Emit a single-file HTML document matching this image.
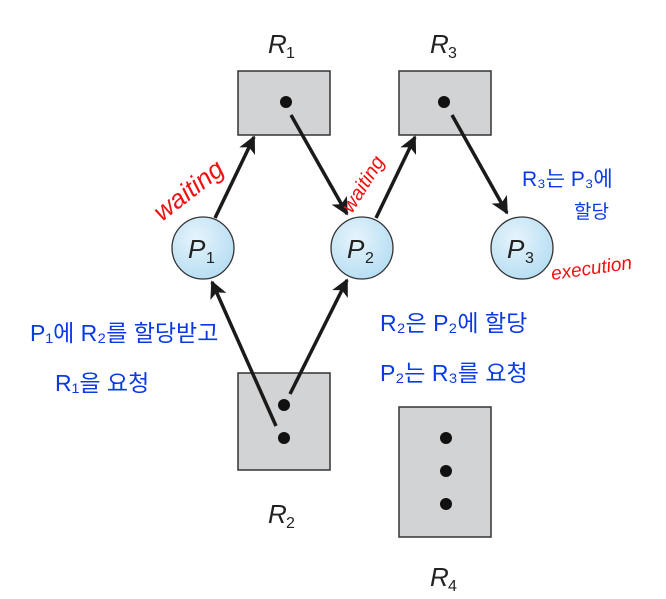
<!DOCTYPE html>
<html><head><meta charset="utf-8"><style>
html,body{margin:0;padding:0;background:#fff;}
svg{display:block;}
.lbl{font-family:"Liberation Sans",sans-serif;font-style:italic;font-size:26px;fill:#222;}
.sub{font-family:"Liberation Sans",sans-serif;font-size:16px;fill:#222;}
.red{font-family:"Liberation Sans",sans-serif;font-style:italic;fill:#f01010;}
.blue{font-family:"Liberation Sans","Noto Sans CJK KR",sans-serif;fill:#0a3ae8;}
</style></head><body>
<svg width="666" height="599" viewBox="0 0 666 599" xmlns="http://www.w3.org/2000/svg">
<defs>
<marker id="ah" viewBox="0 0 10 10" refX="9" refY="5" markerWidth="5" markerHeight="5" orient="auto" markerUnits="strokeWidth">
<path d="M0,0 L10,5 L0,10 L2.5,5 z" fill="#1a1a1a"/></marker>
<radialGradient id="pg" cx="0.4" cy="0.35" r="0.7"><stop offset="0" stop-color="#e6f4fc"/><stop offset="1" stop-color="#b5ddf2"/></radialGradient>
</defs>
<g fill="#d2d3d4" stroke="#333" stroke-width="1.5">
<rect x="238" y="71" width="92" height="64"/>
<rect x="399" y="71" width="92" height="64"/>
<rect x="238" y="373" width="92" height="97"/>
<rect x="399" y="407" width="92" height="130"/>
</g>
<g fill="#111">
<circle cx="286" cy="102" r="6"/>
<circle cx="444" cy="102" r="6"/>
<circle cx="284" cy="405" r="6"/>
<circle cx="284" cy="438" r="6"/>
<circle cx="446" cy="438" r="6"/>
<circle cx="446" cy="471" r="6"/>
<circle cx="446" cy="504" r="6"/>
</g>
<g fill="url(#pg)" stroke="#333" stroke-width="1.3">
<circle cx="203" cy="248" r="31"/>
<circle cx="362" cy="248" r="31"/>
<circle cx="522" cy="248" r="31"/>
</g>
<g stroke="#1a1a1a" stroke-width="3.5" fill="none" marker-end="url(#ah)">
<line x1="215" y1="218" x2="254" y2="137"/>
<line x1="291" y1="115" x2="347" y2="214"/>
<line x1="376" y1="218" x2="415" y2="137"/>
<line x1="452" y1="115" x2="507" y2="213"/>
<line x1="276" y1="426" x2="212" y2="282"/>
<line x1="290" y1="394" x2="347" y2="280"/>
</g>
<text class="lbl" x="268" y="53">R</text><text class="sub" x="286" y="58">1</text>
<text class="lbl" x="430" y="53">R</text><text class="sub" x="448" y="58">3</text>
<text class="lbl" x="268" y="523">R</text><text class="sub" x="286" y="528">2</text>
<text class="lbl" x="430" y="586">R</text><text class="sub" x="448" y="591">4</text>
<text class="lbl" x="188" y="258">P</text><text class="sub" x="206" y="263">1</text>
<text class="lbl" x="347" y="258">P</text><text class="sub" x="365" y="263">2</text>
<text class="lbl" x="507" y="258">P</text><text class="sub" x="525" y="263">3</text>
<text class="red" font-size="26" transform="translate(162,222) rotate(-38)">waiting</text>
<text class="red" font-size="20" transform="translate(352,214) rotate(-58)">waiting</text>
<text class="red" font-size="19" transform="translate(552,280) rotate(-8)">execution</text>
<text class="blue" font-size="21" x="522" y="186">R₃는 P₃에</text>
<text class="blue" font-size="19" x="574" y="218">할당</text>
<text class="blue" font-size="23" x="30" y="341">P₁에 R₂를 할당받고</text>
<text class="blue" font-size="23" x="55" y="391">R₁을 요청</text>
<text class="blue" font-size="23" x="380" y="331">R₂은 P₂에 할당</text>
<text class="blue" font-size="23" x="380" y="381">P₂는 R₃를 요청</text>
</svg>
</body></html>
